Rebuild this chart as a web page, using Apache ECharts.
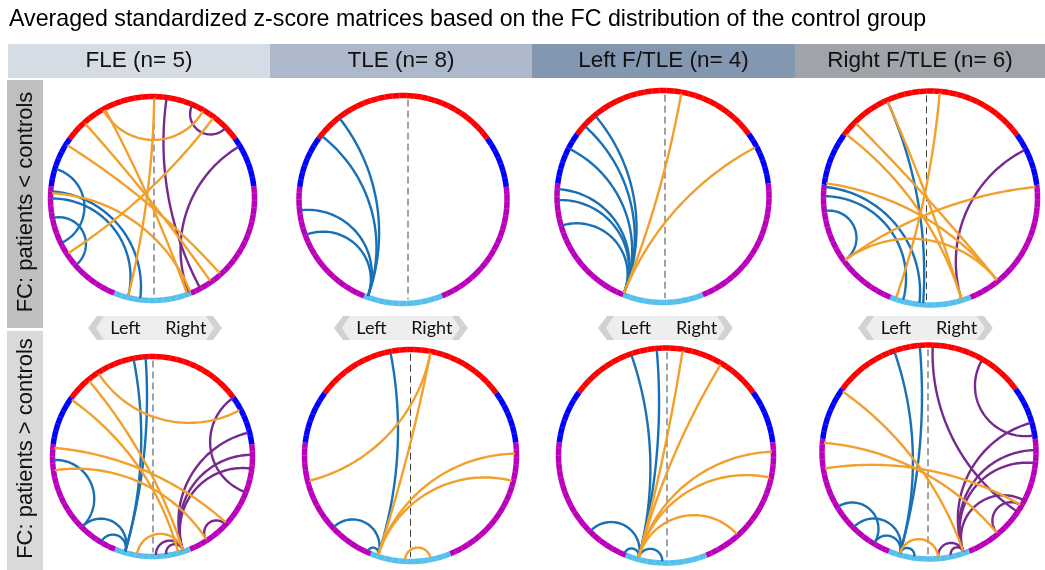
<!DOCTYPE html>
<html><head><meta charset="utf-8">
<script src="https://cdn.jsdelivr.net/npm/echarts@6/dist/echarts.min.js"></script>
<style>html,body{margin:0;padding:0;background:#fff}#c{width:1045px;height:570px}</style>
</head><body><div id="c"></div>
<script>
// ---------- texts ----------
const titleText = 'Averaged standardized z-score matrices based on the FC distribution of the control group';
const groupLabels = ['FLE (n= 5)', 'TLE (n= 8)', 'Left F/TLE (n= 4)', 'Right F/TLE (n= 6)'];
const rowLabels = ['FC: patients < controls', 'FC: patients > controls'];
const hemiLabels = ['Left', 'Right'];

// ---------- ring lobes (degrees clockwise from 12 o'clock) ----------
const lobeStart = [-54, 54, 83, 158, 202, 277];
const lobeEnd   = [54, 83, 158, 202, 277, 306];
const lobeKind  = [0, 1, 2, 3, 2, 1];   // frontal, parietal, temporal, occipital

// ---------- chords: [angle A, angle B, kind] ----------
const B = 0, O = 1, P = 2;   // blue, orange, purple
const fleLess = [
  [287, 244, B], [259, 229, B], [274, 187, B], [270, 194, B],
  [8, 152, P], [59, 159, P], [23, 46, P],
  [332, 160, O], [318, 145, O], [302, 138, O], [273, 158, O], [237, 37, O], [1, 194, O], [331, 30, O]
];
const tleLess = [
  [200, 322, B], [200, 308, B], [200, 264, B], [200, 250, B]
];
const lftleLess = [
  [202, 320, B], [202, 312, B], [202, 297, B], [202, 274, B], [202, 268, B], [202, 254, B],
  [202, 10, O], [202, 62, O]
];
const rftleLess = [
  [336, 184, B], [271, 195, B], [276, 186, B], [263, 234, B],
  [63, 163, P],
  [5, 199, O], [336, 163, O], [315, 141, O], [307, 163, O], [278, 141, O], [234, 84, O], [234, 141, O]
];
const fleMore = [
  [349, 196, B], [356, 196, B], [268, 225, B], [225, 196, B], [211, 196, B],
  [162, 76, P], [162, 89, P], [162, 97, P], [54, 111, P], [147, 133, P], [172, 162, P], [178, 162, P],
  [320, 162, O], [327, 62, O], [305, 165, O], [275, 132, O], [262, 147, O], [189, 162, O]
];
const tleMore = [
  [198, 349, B], [198, 227, B], [198, 204, B],
  [11, 198, O], [11, 256, O], [198, 89, O], [198, 104, O], [183, 169, O]
];
const lftleMore = [
  [195, 341, B], [195, 355, B], [195, 225, B], [195, 203, B], [195, 182, B],
  [195, 9, O], [195, 31, O], [195, 88, O], [195, 102, O], [195, 138, O]
];
const rftleMore = [
  [196, 341, B], [196, 355, B], [239, 211, B], [225, 196, B], [211, 196, B], [196, 188, B],
  [2, 124, P], [30, 81, P], [161, 74, P], [161, 89, P], [161, 96, P], [161, 117, P], [175, 161, P], [168, 161, P], [140, 120, P],
  [305, 161, O], [275, 140, O], [261, 120, O], [196, 175, O]
];
const panelChords = [fleLess, tleLess, lftleLess, rftleLess, fleMore, tleMore, lftleMore, rftleMore];

// ---------- layout / styles ----------
const panelBox = [ // centre x, centre y, radius, midline offset (px)
  [152.5, 198.5, 102, 1.5], [403, 199.5, 104, 5], [663, 196.5, 106, 2], [930.5, 198, 107, -4],
  [152.5, 456.5, 100, 0.5], [410.5, 455.5, 106, 0], [666, 455.5, 107.5, 1], [929, 452, 107, -1]
];
const lobeColors = ['#ff0000', '#0000ff', '#bb00bb', '#55c0ec'];
const chordColors = ['#1a70b4', '#f1a02d', '#772a8e'];

function unit(deg) { const t = deg * Math.PI / 180; return [Math.sin(t), Math.cos(t)]; }
function geodesic(a1, a2) {
  const u = unit(a1), v = unit(a2);
  const dot = u[0] * v[0] + u[1] * v[1];
  if (dot < -0.9993) return [u, v];
  const k = 1 / (1 + dot);
  const c = [(u[0] + v[0]) * k, (u[1] + v[1]) * k];
  const r = Math.sqrt(Math.max(c[0] * c[0] + c[1] * c[1] - 1, 0));
  const p1 = Math.atan2(u[1] - c[1], u[0] - c[0]);
  let d = Math.atan2(v[1] - c[1], v[0] - c[0]) - p1;
  while (d > Math.PI) d -= 2 * Math.PI;
  while (d < -Math.PI) d += 2 * Math.PI;
  const pts = [];
  const n = 60;
  for (let i = 0; i <= n; i++) { const p = p1 + d * i / n; pts.push([c[0] + r * Math.cos(p), c[1] + r * Math.sin(p)]); }
  return pts;
}

const grids = [], xAxes = [], yAxes = [], series = [];
panelBox.forEach((b, i) => {
  const [cx, cy, r, mid] = b;
  grids.push({ left: cx - r, top: cy - r, width: 2 * r, height: 2 * r });
  xAxes.push({ gridIndex: i, type: 'value', min: -1, max: 1, show: false });
  yAxes.push({ gridIndex: i, type: 'value', min: -1, max: 1, show: false });
  // ring
  series.push({
    type: 'custom', xAxisIndex: i, yAxisIndex: i, silent: true, z: 2,
    data: lobeStart.map((s, j) => [s, lobeEnd[j], lobeKind[j]]),
    renderItem: (params, api) => {
      const s = api.value(0), e = api.value(1), kind = api.value(2);
      const pts = [];
      for (let a = s; a <= e + 0.001; a += 1) pts.push(api.coord(unit(a)));
      pts.push(api.coord(unit(e)));
      const children = [{ type: 'polyline', shape: { points: pts }, style: { stroke: lobeColors[kind], lineWidth: 5.5, fill: null, lineCap: 'butt' } }];
      for (let a = s + 4; a < e - 1; a += 4) {
        const p1 = api.coord(unit(a).map(x => x * 0.975)), p2 = api.coord(unit(a).map(x => x * 1.025));
        children.push({ type: 'line', shape: { x1: p1[0], y1: p1[1], x2: p2[0], y2: p2[1] }, style: { stroke: 'rgba(255,255,255,0.22)', lineWidth: 0.7 } });
      }
      return { type: 'group', children };
    }
  });
  // midline
  const mx = mid / r;
  series.push({
    type: 'custom', xAxisIndex: i, yAxisIndex: i, silent: true, z: 3,
    data: [[mx, 0.96, -0.96]],
    renderItem: (params, api) => {
      const p1 = api.coord([api.value(0), api.value(1)]), p2 = api.coord([api.value(0), api.value(2)]);
      return { type: 'line', shape: { x1: p1[0], y1: p1[1], x2: p2[0], y2: p2[1] }, style: { stroke: '#444', lineWidth: 1, lineDash: [7, 4] } };
    }
  });
  // chords
  series.push({
    type: 'custom', xAxisIndex: i, yAxisIndex: i, silent: true, z: 4,
    data: panelChords[i],
    renderItem: (params, api) => {
      const pts = geodesic(api.value(0), api.value(1)).map(p => api.coord([p[0] * 0.985, p[1] * 0.985]));
      return { type: 'polyline', shape: { points: pts }, style: { stroke: chordColors[api.value(2)], lineWidth: 2.4, fill: null } };
    }
  });
});

// ---------- decorations ----------
const headerX = [8, 270, 532, 795, 1045];
const headerColors = ['#d6dce5', '#adb9ca', '#8497b0', '#9fa4aa'];
const graphics = [];
graphics.push({ type: 'text', left: 9, top: 8, style: { text: titleText, font: '23.2px "Liberation Sans", Arial, sans-serif', fill: '#000' } });
groupLabels.forEach((t, i) => {
  graphics.push({ type: 'rect', shape: { x: headerX[i], y: 44, width: headerX[i + 1] - headerX[i], height: 34 }, style: { fill: headerColors[i] } });
  graphics.push({ type: 'text', x: (headerX[i] + headerX[i + 1]) / 2, y: 61, style: { text: t, font: '22.5px "Liberation Sans", Arial, sans-serif', fill: '#111', align: 'center', verticalAlign: 'middle' } });
});
const sideBars = [[80, 328, '#bfbfbf'], [331, 570, '#d9d9d9']];
sideBars.forEach((s, i) => {
  graphics.push({ type: 'rect', shape: { x: 7, y: s[0], width: 36, height: s[1] - s[0] }, style: { fill: s[2] } });
  graphics.push({ type: 'text', x: 26, y: (s[0] + s[1]) / 2 - 2, rotation: Math.PI / 2, style: { text: rowLabels[i], font: '22px "Liberation Sans", Arial, sans-serif', fill: '#111', align: 'center', verticalAlign: 'middle' } });
});
const bannerX = [[88, 222], [334, 468], [598, 733], [858, 993]];
bannerX.forEach(([x0, x1]) => {
  const yt = 316, yb = 340, ym = 328;
  graphics.push({ type: 'polygon', shape: { points: [[x0 + 7, ym], [x0 + 15, yt], [x1 - 15, yt], [x1 - 7, ym], [x1 - 15, yb], [x0 + 15, yb]] }, style: { fill: '#eeeeee' } });
  graphics.push({ type: 'polygon', shape: { points: [[x0, ym], [x0 + 9, yt], [x0 + 16, yt], [x0 + 8, ym], [x0 + 16, yb], [x0 + 9, yb]] }, style: { fill: '#d2d2d2' } });
  graphics.push({ type: 'polygon', shape: { points: [[x1, ym], [x1 - 9, yt], [x1 - 16, yt], [x1 - 8, ym], [x1 - 16, yb], [x1 - 9, yb]] }, style: { fill: '#d2d2d2' } });
  const w = x1 - x0;
  graphics.push({ type: 'text', x: x0 + w * 0.28, y: ym, style: { text: hemiLabels[0], font: '18px Lato, "Open Sans", sans-serif', fill: '#111', align: 'center', verticalAlign: 'middle' } });
  graphics.push({ type: 'text', x: x0 + w * 0.73, y: ym, style: { text: hemiLabels[1], font: '18px Lato, "Open Sans", sans-serif', fill: '#111', align: 'center', verticalAlign: 'middle' } });
});

const chart = echarts.init(document.getElementById('c'), null, { renderer: 'canvas' });
chart.setOption({
  animation: false,
  backgroundColor: '#ffffff',
  grid: grids, xAxis: xAxes, yAxis: yAxes, series,
  graphic: { elements: graphics }
});
</script></body></html>
